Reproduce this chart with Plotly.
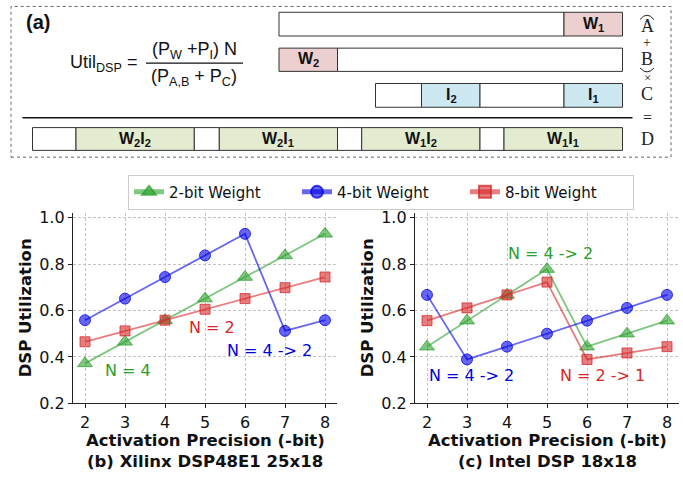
import plotly.graph_objects as go

W, H = 683, 487

# ---------------- data ----------------
act_bits = [2, 3, 4, 5, 6, 7, 8]
series_names = ["2-bit Weight", "4-bit Weight", "8-bit Weight"]

xilinx_2bit = [0.372, 0.465, 0.558, 0.651, 0.744, 0.837, 0.930]
xilinx_4bit = [0.558, 0.651, 0.744, 0.837, 0.930, 0.512, 0.558]
xilinx_8bit = [0.465, 0.512, 0.558, 0.605, 0.651, 0.698, 0.744]

intel_2bit = [0.444, 0.556, 0.667, 0.778, 0.444, 0.500, 0.556]
intel_4bit = [0.667, 0.389, 0.444, 0.500, 0.556, 0.611, 0.667]
intel_8bit = [0.556, 0.611, 0.667, 0.722, 0.389, 0.417, 0.444]

y_ticks = [0.2, 0.4, 0.6, 0.8, 1.0]
y_tick_labels = ["0.2", "0.4", "0.6", "0.8", "1.0"]

# ---------------- helpers ----------------
def px(x):
    return x / W

def py(y):
    return 1 - y / H

fig = go.Figure()

line_cols = ["rgba(44,160,44,0.6)", "rgba(0,0,230,0.6)", "rgba(214,39,40,0.6)"]
edge_cols = ["rgba(44,160,44,0.75)", "rgba(0,0,230,0.75)", "rgba(214,39,40,0.75)"]
symbols = ["triangle-up", "circle", "square"]
msizes = [13, 11, 10]

for k, (ax, data) in enumerate([("x", [xilinx_2bit, xilinx_4bit, xilinx_8bit]),
                                ("x2", [intel_2bit, intel_4bit, intel_8bit])]):
    for i, vals in enumerate(data):
        fig.add_trace(go.Scatter(
            x=act_bits, y=vals, mode="lines+markers",
            name=series_names[i], showlegend=(k == 0),
            xaxis=ax, yaxis="y" if k == 0 else "y2",
            line=dict(color=line_cols[i], width=1.8),
            marker=dict(symbol=symbols[i], size=msizes[i], color=line_cols[i],
                        line=dict(color=edge_cols[i], width=1)),
        ))

ydom = [py(411), py(215)]
axis_common = dict(
    showline=True, linecolor="#222", linewidth=1.3, mirror=False,
    ticks="outside", ticklen=4, tickcolor="#222", tickwidth=1.2,
    showgrid=True, gridcolor="#c4c4c4", griddash="3px,2px", gridwidth=1,
    zeroline=False, tickfont=dict(family="DejaVu Sans", size=16, color="#111"),
)
fig.update_layout(
    xaxis=dict(domain=[px(73), px(337)], range=[1.7, 8.3], tickvals=act_bits,
               anchor="y", **axis_common),
    yaxis=dict(domain=ydom, range=[0.2, 1.018], tickvals=y_ticks, ticktext=y_tick_labels,
               anchor="x", **axis_common),
    xaxis2=dict(domain=[px(415), px(679)], range=[1.7, 8.3], tickvals=act_bits,
                anchor="y2", **axis_common),
    yaxis2=dict(domain=ydom, range=[0.2, 1.018], tickvals=y_ticks, ticktext=y_tick_labels,
                anchor="x2", **axis_common),
)

ann = []
shapes = []

# axis titles and subtitles
bold = dict(family="DejaVu Sans", size=16.5, color="#111")
for off, sub in [(0, "(b) Xilinx DSP48E1 25x18"), (342, "(c) Intel DSP 18x18")]:
    ann.append(dict(x=px(25 + off), y=py(313), xref="paper", yref="paper",
                    text="<b>DSP Utilization</b>", textangle=-90, showarrow=False,
                    font=bold, xanchor="center", yanchor="middle"))
    ann.append(dict(x=px(205 + off), y=py(449), xref="paper", yref="paper",
                    text="<b>Activation Precision (-bit)</b>", showarrow=False,
                    font=bold, xanchor="center", yanchor="middle"))
    ann.append(dict(x=px(205 + off), y=py(471), xref="paper", yref="paper",
                    text="<b>" + sub + "</b>", showarrow=False,
                    font=bold, xanchor="center", yanchor="middle"))

# in-plot notes
notes = [
    ("x", "y", 3.07, 0.342, "N = 4", "#2ca02c"),
    ("x", "y", 5.17, 0.526, "N = 2", "#d62728"),
    ("x", "y", 6.6, 0.426, "N = 4 -> 2", "#0000dd"),
    ("x2", "y2", 5.09, 0.844, "N = 4 -> 2", "#2ca02c"),
    ("x2", "y2", 3.12, 0.321, "N = 4 -> 2", "#0000dd"),
    ("x2", "y2", 6.39, 0.321, "N = 2 -> 1", "#d62728"),
]
for xr, yr, x, y, t, c in notes:
    ann.append(dict(x=x, y=y, xref=xr, yref=yr, text=t, showarrow=False,
                    font=dict(family="DejaVu Sans", size=16, color=c),
                    xanchor="center", yanchor="middle"))

# ---------------- panel (a) ----------------
shapes.append(dict(type="rect", xref="paper", yref="paper",
                   x0=px(11), x1=px(671), y0=py(157), y1=py(1.5),
                   line=dict(color="#666", width=1, dash="dot"), fillcolor="rgba(0,0,0,0)"))

pink, blue, green = "#eccfcf", "#cde8f1", "#e3ebd0"
edge = dict(color="#333", width=1)

def rect(x0, x1, y0, y1, fill):
    shapes.append(dict(type="rect", xref="paper", yref="paper",
                       x0=px(x0), x1=px(x1), y0=py(y1), y1=py(y0),
                       line=edge, fillcolor=fill))

def label(xc, yc, text, size=16, family="Liberation Sans", color="#111", bold_=True):
    ann.append(dict(x=px(xc), y=py(yc), xref="paper", yref="paper",
                    text=("<b>%s</b>" % text) if bold_ else text, showarrow=False,
                    font=dict(family=family, size=size, color=color),
                    xanchor="center", yanchor="middle", borderpad=0))

# A
rect(279, 564, 7.5, 32, "white"); rect(564, 622.5, 7.5, 32, pink)
label(593, 20, "W<sub>1</sub>")
# B
rect(279, 337.5, 44.5, 68.5, pink); rect(337.5, 622.5, 44.5, 68.5, "white")
label(308, 56, "W<sub>2</sub>")
# C
rect(375.5, 421.5, 81, 105.5, "white"); rect(421.5, 480, 81, 105.5, blue)
rect(480, 564, 81, 105.5, "white"); rect(564, 622.5, 81, 105.5, blue)
label(451, 93, "I<sub>2</sub>"); label(593, 93, "I<sub>1</sub>")
# line
shapes.append(dict(type="line", xref="paper", yref="paper",
                   x0=px(22.5), x1=px(632.5), y0=py(116.3), y1=py(116.3),
                   line=dict(color="#111", width=1.6)))
# D
segs = [(32.5, 76, "white", ""), (76, 194.3, green, "W<sub>2</sub>I<sub>2</sub>"),
        (194.3, 219.3, "white", ""), (219.3, 337.5, green, "W<sub>2</sub>I<sub>1</sub>"),
        (337.5, 361.7, "white", ""), (361.7, 480, green, "W<sub>1</sub>I<sub>2</sub>"),
        (480, 504, "white", ""), (504, 622.5, green, "W<sub>1</sub>I<sub>1</sub>")]
for x0, x1, f, t in segs:
    rect(x0, x1, 126.5, 150, f)
    if t:
        label((x0 + x1) / 2, 138.5, t)

# right-side serif labels
for t, yc, sz in [("A", 22, 18), ("+", 39, 14), ("B", 56, 18), ("×", 75, 13),
                  ("C", 92, 18), ("=", 116, 16), ("D", 138, 18)]:
    label(647, yc, t, size=sz, family="Liberation Serif", color="#222", bold_=False)

def P(x, y):
    return "%.5f %.5f" % (px(x), py(y))

shapes.append(dict(type="path", xref="paper", yref="paper",
                   path="M %s Q %s %s" % (P(640, 15), P(647, 6), P(654, 15)),
                   line=dict(color="#222", width=1)))
shapes.append(dict(type="path", xref="paper", yref="paper",
                   path="M %s Q %s %s" % (P(640, 65), P(647, 73), P(654, 65)),
                   line=dict(color="#222", width=1)))

# formula
fam = "Liberation Sans"
ann.append(dict(x=px(24), y=py(18), xref="paper", yref="paper", text="<b>(a)</b>",
                showarrow=False, font=dict(family=fam, size=20, color="#111"),
                xanchor="left", yanchor="middle"))
ann.append(dict(x=px(139), y=py(60), xref="paper", yref="paper",
                text="Util<sub>DSP</sub> =", showarrow=False,
                font=dict(family=fam, size=18, color="#111"), xanchor="right", yanchor="middle"))
ann.append(dict(x=px(194), y=py(47), xref="paper", yref="paper",
                text="(P<sub>W</sub> +P<sub>I</sub>) N", showarrow=False,
                font=dict(family=fam, size=18, color="#111"), xanchor="center", yanchor="middle"))
ann.append(dict(x=px(194), y=py(75), xref="paper", yref="paper",
                text="(P<sub>A,B</sub> + P<sub>C</sub>)", showarrow=False,
                font=dict(family=fam, size=18, color="#111"), xanchor="center", yanchor="middle"))
shapes.append(dict(type="line", xref="paper", yref="paper",
                   x0=px(146), x1=px(243), y0=py(60), y1=py(60),
                   line=dict(color="#111", width=1.3)))

fig.update_layout(
    width=W, height=H, autosize=False,
    margin=dict(l=0, r=0, t=0, b=0),
    paper_bgcolor="white", plot_bgcolor="white",
    annotations=ann, shapes=shapes,
    legend=dict(orientation="h", x=px(381), y=py(175), xanchor="center", yanchor="top",
                bordercolor="#cccccc", borderwidth=1, bgcolor="white",
                font=dict(family="DejaVu Sans", size=15, color="#111"),
                entrywidth=123, entrywidthmode="pixels", itemsizing="constant"),
)

fig.write_html("out.html", config={"displayModeBar": False},
               post_script="document.body.style.margin='0';document.body.style.overflow='hidden';")
